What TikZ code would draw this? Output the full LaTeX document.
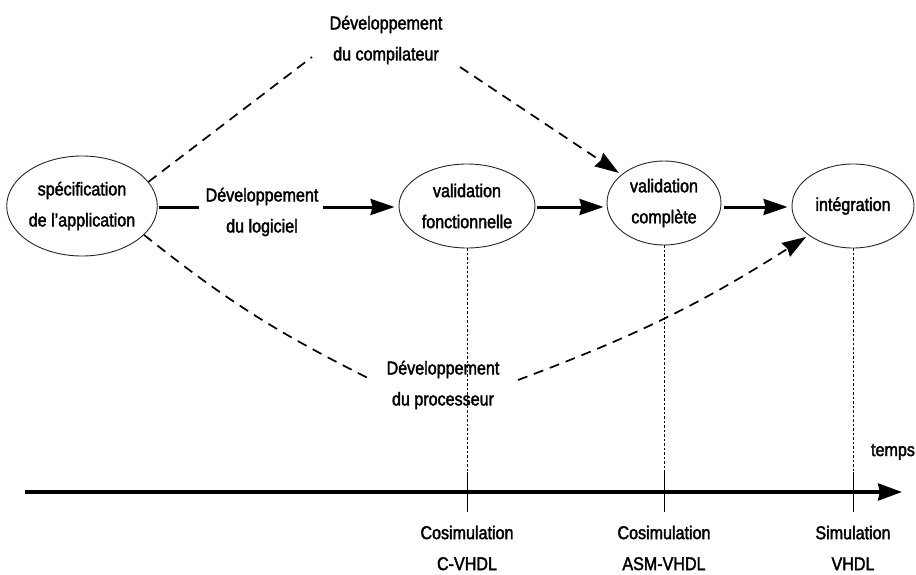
\documentclass[tikz,border=0pt]{standalone}
\usepackage{fontspec}
\setmainfont[FakeStretch=0.87,FakeBold=2]{Liberation Sans}
\usetikzlibrary{arrows.meta,shapes.geometric,calc}

\begin{document}
\begin{tikzpicture}[x=1pt,y=-1pt,
  every node/.style={font=\fontsize{18.5}{31}\selectfont, align=center, inner sep=0pt},
  phase/.style n args={2}{ellipse, draw=black!85, line width=0.9pt,
    minimum width=#1, minimum height=#2},
  flow/.style={line width=3pt, -{Stealth[length=24pt,width=16pt,inset=2pt]}},
  flowline/.style={line width=3pt},
  plan/.style={line width=1.7pt, dash pattern=on 10pt off 7pt},
  planarrow/.style={plan, -{Stealth[length=24pt,width=16pt,inset=2pt]}},
  guide/.style={line width=0.8pt, dash pattern=on 2.5pt off 2pt},
  tick/.style={line width=1pt},
  axis/.style={line width=3.5pt, -{Stealth[length=24pt,width=17pt,inset=2pt]}}]

\useasboundingbox (0,0) rectangle (916,575);

% phases
\node[phase={144pt}{100pt}] (spec) at (82,206) {spécification\\de l'application};
\node[phase={136pt}{84pt}]  (vf)   at (467,206) {validation\\fonctionnelle};
\node[phase={114pt}{84pt}]  (vc)   at (664,203) {validation\\complète};
\node[phase={122pt}{84pt}]  (int)  at (853,206) {intégration};

% development paths
\node (logi)   at (262,212) {Développement\\du logiciel};
\node (compil) at (386,40)  {Développement\\du compilateur};
\node (proc)   at (443,385) {Développement\\du processeur};

\coordinate (c1) at (312,57);
\coordinate (c2) at (460,67);
\coordinate (c3) at (368,378);
\coordinate (c4) at (518,380);

\draw[flowline] ([xshift=1pt]spec.east |- 0,207) -- ([xshift=-6pt]logi.west |- 0,207);
\draw[flow] ([xshift=4pt]logi.east |- 0,207) -- ([xshift=-4pt]vf.west |- 0,207);
\draw[flow] ([xshift=2pt]vf.east |- 0,207) -- ([xshift=-3pt]vc.west |- 0,207);
\draw[flow] ([xshift=3pt]vc.east |- 0,207) -- ([xshift=-4pt]int.west |- 0,207);

\draw[plan] (spec.20) -- (c1);
\draw[planarrow, shorten >=3pt] (c2) -- (vc);
\draw[plan] (spec.-25) to[bend right=6] (c3);
\draw[planarrow, shorten >=3pt] (c4) to[bend right=6] (int);

% time axis
\coordinate (a0) at (25,492);
\coordinate (a1) at (902,492);
\draw[axis] (a0) -- (a1);
\node (temps) at (893,452) {temps};

\foreach \p in {vf,vc,int}{
  \draw[guide] (\p.south) -- ($(\p.south |- a0)+(0,-20)$);
  \draw[tick] ($(\p.south |- a0)+(0,-20)$) -- ($(\p.south |- a0)+(0,20)$);
}

\node (m1) at (vf.south |- 0,548)  {Cosimulation\\C-VHDL};
\node (m2) at (vc.south |- 0,548)  {Cosimulation\\ASM-VHDL};
\node (m3) at (int.south |- 0,548) {Simulation\\VHDL};
\end{tikzpicture}
\end{document}
